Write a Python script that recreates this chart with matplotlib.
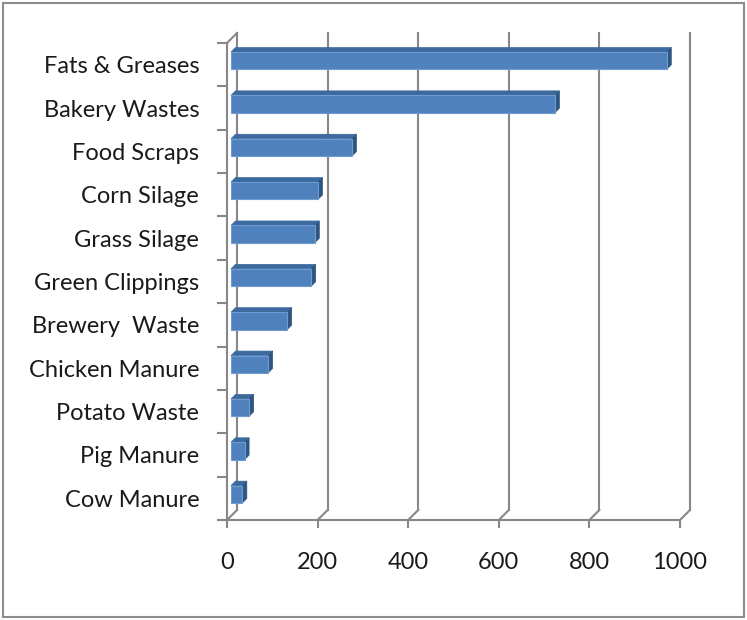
import matplotlib
matplotlib.use("Agg")
import matplotlib.pyplot as plt
from matplotlib.patches import Polygon, Rectangle

categories = ["Cow Manure", "Pig Manure", "Potato Waste", "Chicken Manure",
              "Brewery  Waste", "Green Clippings", "Grass Silage",
              "Corn Silage", "Food Scraps", "Bakery Wastes", "Fats & Greases"]
values = [25, 30, 40, 82, 124, 177, 185, 192, 267, 715, 962]
xticks = [0, 200, 400, 600, 800, 1000]

W, H = 747, 620
fig = plt.figure(figsize=(W / 100, H / 100), dpi=100)
# front plane of the plot area in pixels
x0, x1, ytop, ybot = 227, 680, 43, 520
ax = fig.add_axes([x0 / W, 1 - ybot / H, (x1 - x0) / W, (ybot - ytop) / H])
xmax = 1000
ax.set_xlim(0, xmax)
ax.set_ylim(-0.5, len(categories) - 0.5)

# pixel -> data units, for the fake 3D depth
px_x = xmax / (x1 - x0)
px_y = len(categories) / (ybot - ytop)

def off(d):
    return d * px_x, d * px_y

grid = "#878787"
D = 10          # depth of the back wall
d1, d2 = 4, 8.5  # depth of the bars
ylo, yhi = -0.5, len(categories) - 0.5

# back wall gridlines + floor diagonals
dx, dy = off(D)
for v in xticks:
    ax.plot([v + dx, v + dx], [ylo + dy, yhi + dy], color=grid, lw=1.5, clip_on=False, zorder=1)
    ax.plot([v, v + dx], [ylo, ylo + dy], color=grid, lw=1.5, clip_on=False, zorder=1)
ax.plot([0, dx], [yhi, yhi + dy], color=grid, lw=1.5, clip_on=False, zorder=1)

# bars
front, top, side = "#4f81bd", "#3d6a9e", "#2e5480"
h = 0.4
for i, v in enumerate(values):
    fx, fy = off(d1)
    bx, by = off(d2)
    yb, yt = i - h / 2, i + h / 2
    ax.add_patch(Polygon([(fx, yt + fy), (v + fx, yt + fy), (v + bx, yt + by), (bx, yt + by)],
                         closed=True, facecolor=top, edgecolor=top, lw=0.5, clip_on=False, zorder=3))
    ax.add_patch(Polygon([(v + fx, yb + fy), (v + bx, yb + by), (v + bx, yt + by), (v + fx, yt + fy)],
                         closed=True, facecolor=side, edgecolor=side, lw=0.5, clip_on=False, zorder=3))
    ax.add_patch(Rectangle((fx, yb + fy), v, h, facecolor=front, edgecolor="#6f9bd0",
                           lw=0.8, clip_on=False, zorder=4))

font = "Lato"
ax.set_yticks(range(len(categories)))
ax.set_yticklabels(categories, fontsize=17, family=font, color="#1a1a1a")
ax.set_yticks([i - 0.5 for i in range(len(categories) + 1)], minor=True)
ax.tick_params(axis="y", which="major", length=0, pad=20)
ax.tick_params(axis="y", which="minor", length=7, width=1.5, color=grid, direction="out")
ax.set_xticks(xticks)
ax.set_xticklabels([str(t) for t in xticks], fontsize=17, family=font, color="#1a1a1a")
ax.tick_params(axis="x", length=6, width=1.5, color=grid, direction="out", pad=17)

for s in ["top", "right"]:
    ax.spines[s].set_visible(False)
for s in ["left", "bottom"]:
    ax.spines[s].set_color(grid)
    ax.spines[s].set_linewidth(1.5)
ax.set_facecolor("none")

fig.patches.append(Rectangle((3 / W, 3 / H), 741 / W, 614 / H, transform=fig.transFigure,
                             fill=False, edgecolor="#8c8c8c", lw=1.5))

fig.savefig("out.png", dpi=100)
